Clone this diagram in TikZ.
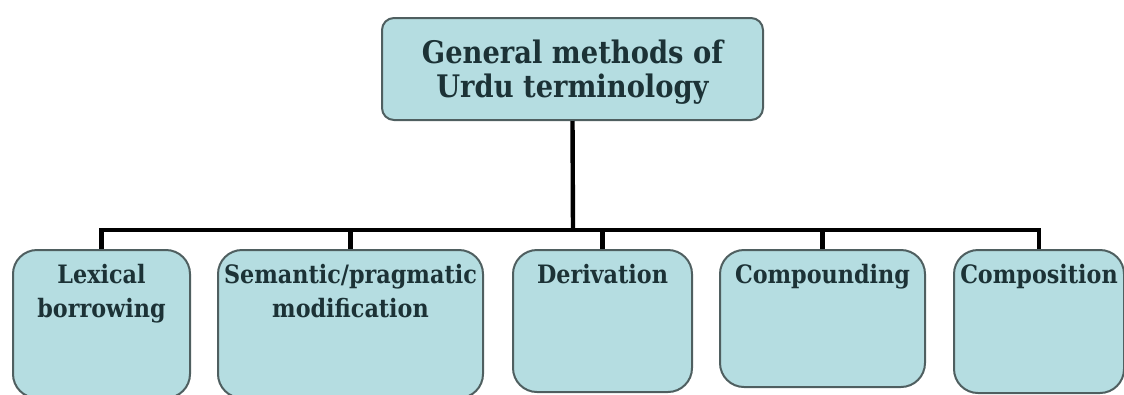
\documentclass[tikz,border=0pt]{standalone}
\usepackage{fontspec}
\setmainfont[FakeStretch=0.88]{DejaVu Serif}
\definecolor{boxfill}{HTML}{B5DDE1}
\definecolor{boxline}{HTML}{4F5F60}
\definecolor{boxtext}{HTML}{1C3236}
\newcommand*{\bary}{230}
\newcommand*{\pagew}{1124}
\newcommand*{\pageh}{394}

\begin{document}
\begin{tikzpicture}
[
	x=0.75pt, y=-0.75pt,
	topbox/.style={rectangle,rounded corners=9pt,draw=boxline,line width=1.5pt,fill=boxfill,inner sep=0pt},
	toptext/.style={text=boxtext,font=\bfseries\fontsize{23.3}{25.5}\selectfont,align=center,inner sep=0pt},
	methodbox/.style={rectangle,rounded corners=18pt,draw=boxline,line width=1.5pt,fill=boxfill,inner sep=0pt},
	methodtext/.style={anchor=north,text=boxtext,font=\bfseries\fontsize{19}{25.5}\selectfont,align=center,inner sep=0pt},
	link/.style={line width=3.3pt}
]
	\useasboundingbox (0,0) rectangle (\pagew,\pageh);

	% root
	\node[topbox,minimum width=285.75pt,minimum height=76.5pt] at (572.5,69) (top) {};
	\node[toptext] at ([yshift=-2.5pt]top.center) (top-t) {General methods of\\Urdu terminology};

	% methods
	\node[methodbox,minimum width=132.75pt,minimum height=111pt] at (101.5,324) (lex) {};
	\node[methodbox,minimum width=198.75pt,minimum height=111pt] at (350.5,324) (sem) {};
	\node[methodbox,minimum width=134.25pt,minimum height=106.5pt] at (602.5,321) (der) {};
	\node[methodbox,minimum width=153.75pt,minimum height=102.75pt] at (822.5,318.5) (comp) {};
	\node[methodbox,minimum width=127.5pt,minimum height=107.25pt] at (1039,321.5) (compo) {};

	\node[methodtext] at ([yshift=-11pt]lex.north) (lex-t) {Lexical\\borrowing};
	\node[methodtext] at ([yshift=-11pt]sem.north) (sem-t) {Semantic/pragmatic\\modification};
	\node[methodtext] at ([yshift=-11pt]der.north) (der-t) {Derivation};
	\node[methodtext] at ([yshift=-11pt]comp.north) (comp-t) {Compounding};
	\node[methodtext] at ([yshift=-11pt]compo.north) (compo-t) {Composition};

	% tree lines
	\coordinate (bar) at (573,\bary);
	\draw[link] (top.south) -- (bar);
	\foreach \m in {lex,sem,der,comp,compo}
		\draw[link] (bar) -| (\m.north);

\end{tikzpicture}
\end{document}
